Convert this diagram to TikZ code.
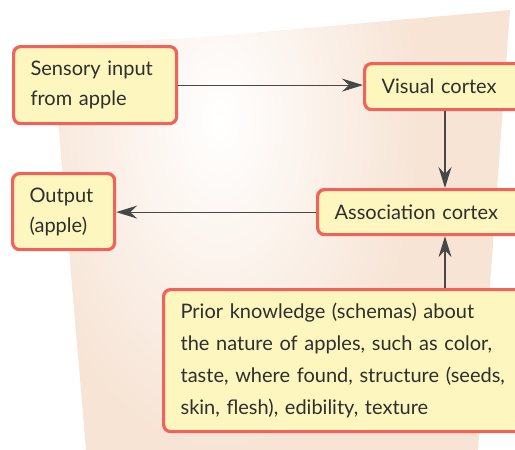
\documentclass[tikz,border=0pt]{standalone}
\usepackage{fontspec}
\setmainfont{Lato}
\usetikzlibrary{arrows.meta,calc}
\definecolor{boxfill}{HTML}{FDF6BE}
\definecolor{boxline}{HTML}{F1625A}
\definecolor{txt}{HTML}{2E2E2E}
\definecolor{arr}{HTML}{474747}
\definecolor{beige}{HTML}{F7E4D5}
\tikzset{
  box/.style={draw=boxline, line width=3.2pt, fill=boxfill, rounded corners=7pt,
    anchor=north west, align=left, text=txt, inner xsep=17pt, inner ysep=0pt,
    font=\fontsize{20}{30}\selectfont},
  conn/.style={draw=arr, line width=1.2pt, -{Stealth[length=21pt,width=13pt,inset=7pt]}}
}
\begin{document}
\begin{tikzpicture}[x=1pt,y=-1pt]
\useasboundingbox (0,0) rectangle (515,450);
\clip (0,0) rectangle (515,450);
\fill[white] (0,0) rectangle (515,450);
% background panel
\begin{scope}
\clip (52,45) -- (200,38) -- (510,10) -- (478,450) -- (86,450) -- cycle;
\fill[beige] (0,0) rectangle (515,450);
\shade[inner color=white, outer color=beige] (220,120) ellipse (200 and 330);
\end{scope}
% nodes
\node[box, minimum width=163pt, minimum height=77pt, text width=129pt] (sens) at (12,45) {Sensory input\\from apple};
\node[box, minimum width=170pt, minimum height=46pt, text width=136pt] (vis) at (363,62) {Visual cortex};
\node[box, minimum width=102pt, minimum height=76pt, text width=68pt] (out) at (11,172) {Output\\(apple)};
\node[box, minimum width=215pt, minimum height=45pt, text width=181pt] (assoc) at (316,188) {Association cortex};
\node[box, minimum width=370pt, minimum height=142pt, text width=336pt, font=\fontsize{20}{32}\selectfont] (prior) at (162,288) {Prior knowledge (schemas) about\\the nature of apples, such as color,\\taste, where found, structure (seeds,\\skin, flesh), edibility, texture};
\coordinate (cx) at (445,0);
% connectors
\draw[conn] (sens.east) -- (sens.east -| vis.west);
\draw[conn] (vis.south -| cx) -- (assoc.north -| cx);
\draw[conn] (assoc.west) -- (assoc.west -| out.east);
\draw[conn] (prior.north -| cx) -- (assoc.south -| cx);
\end{tikzpicture}
\end{document}
